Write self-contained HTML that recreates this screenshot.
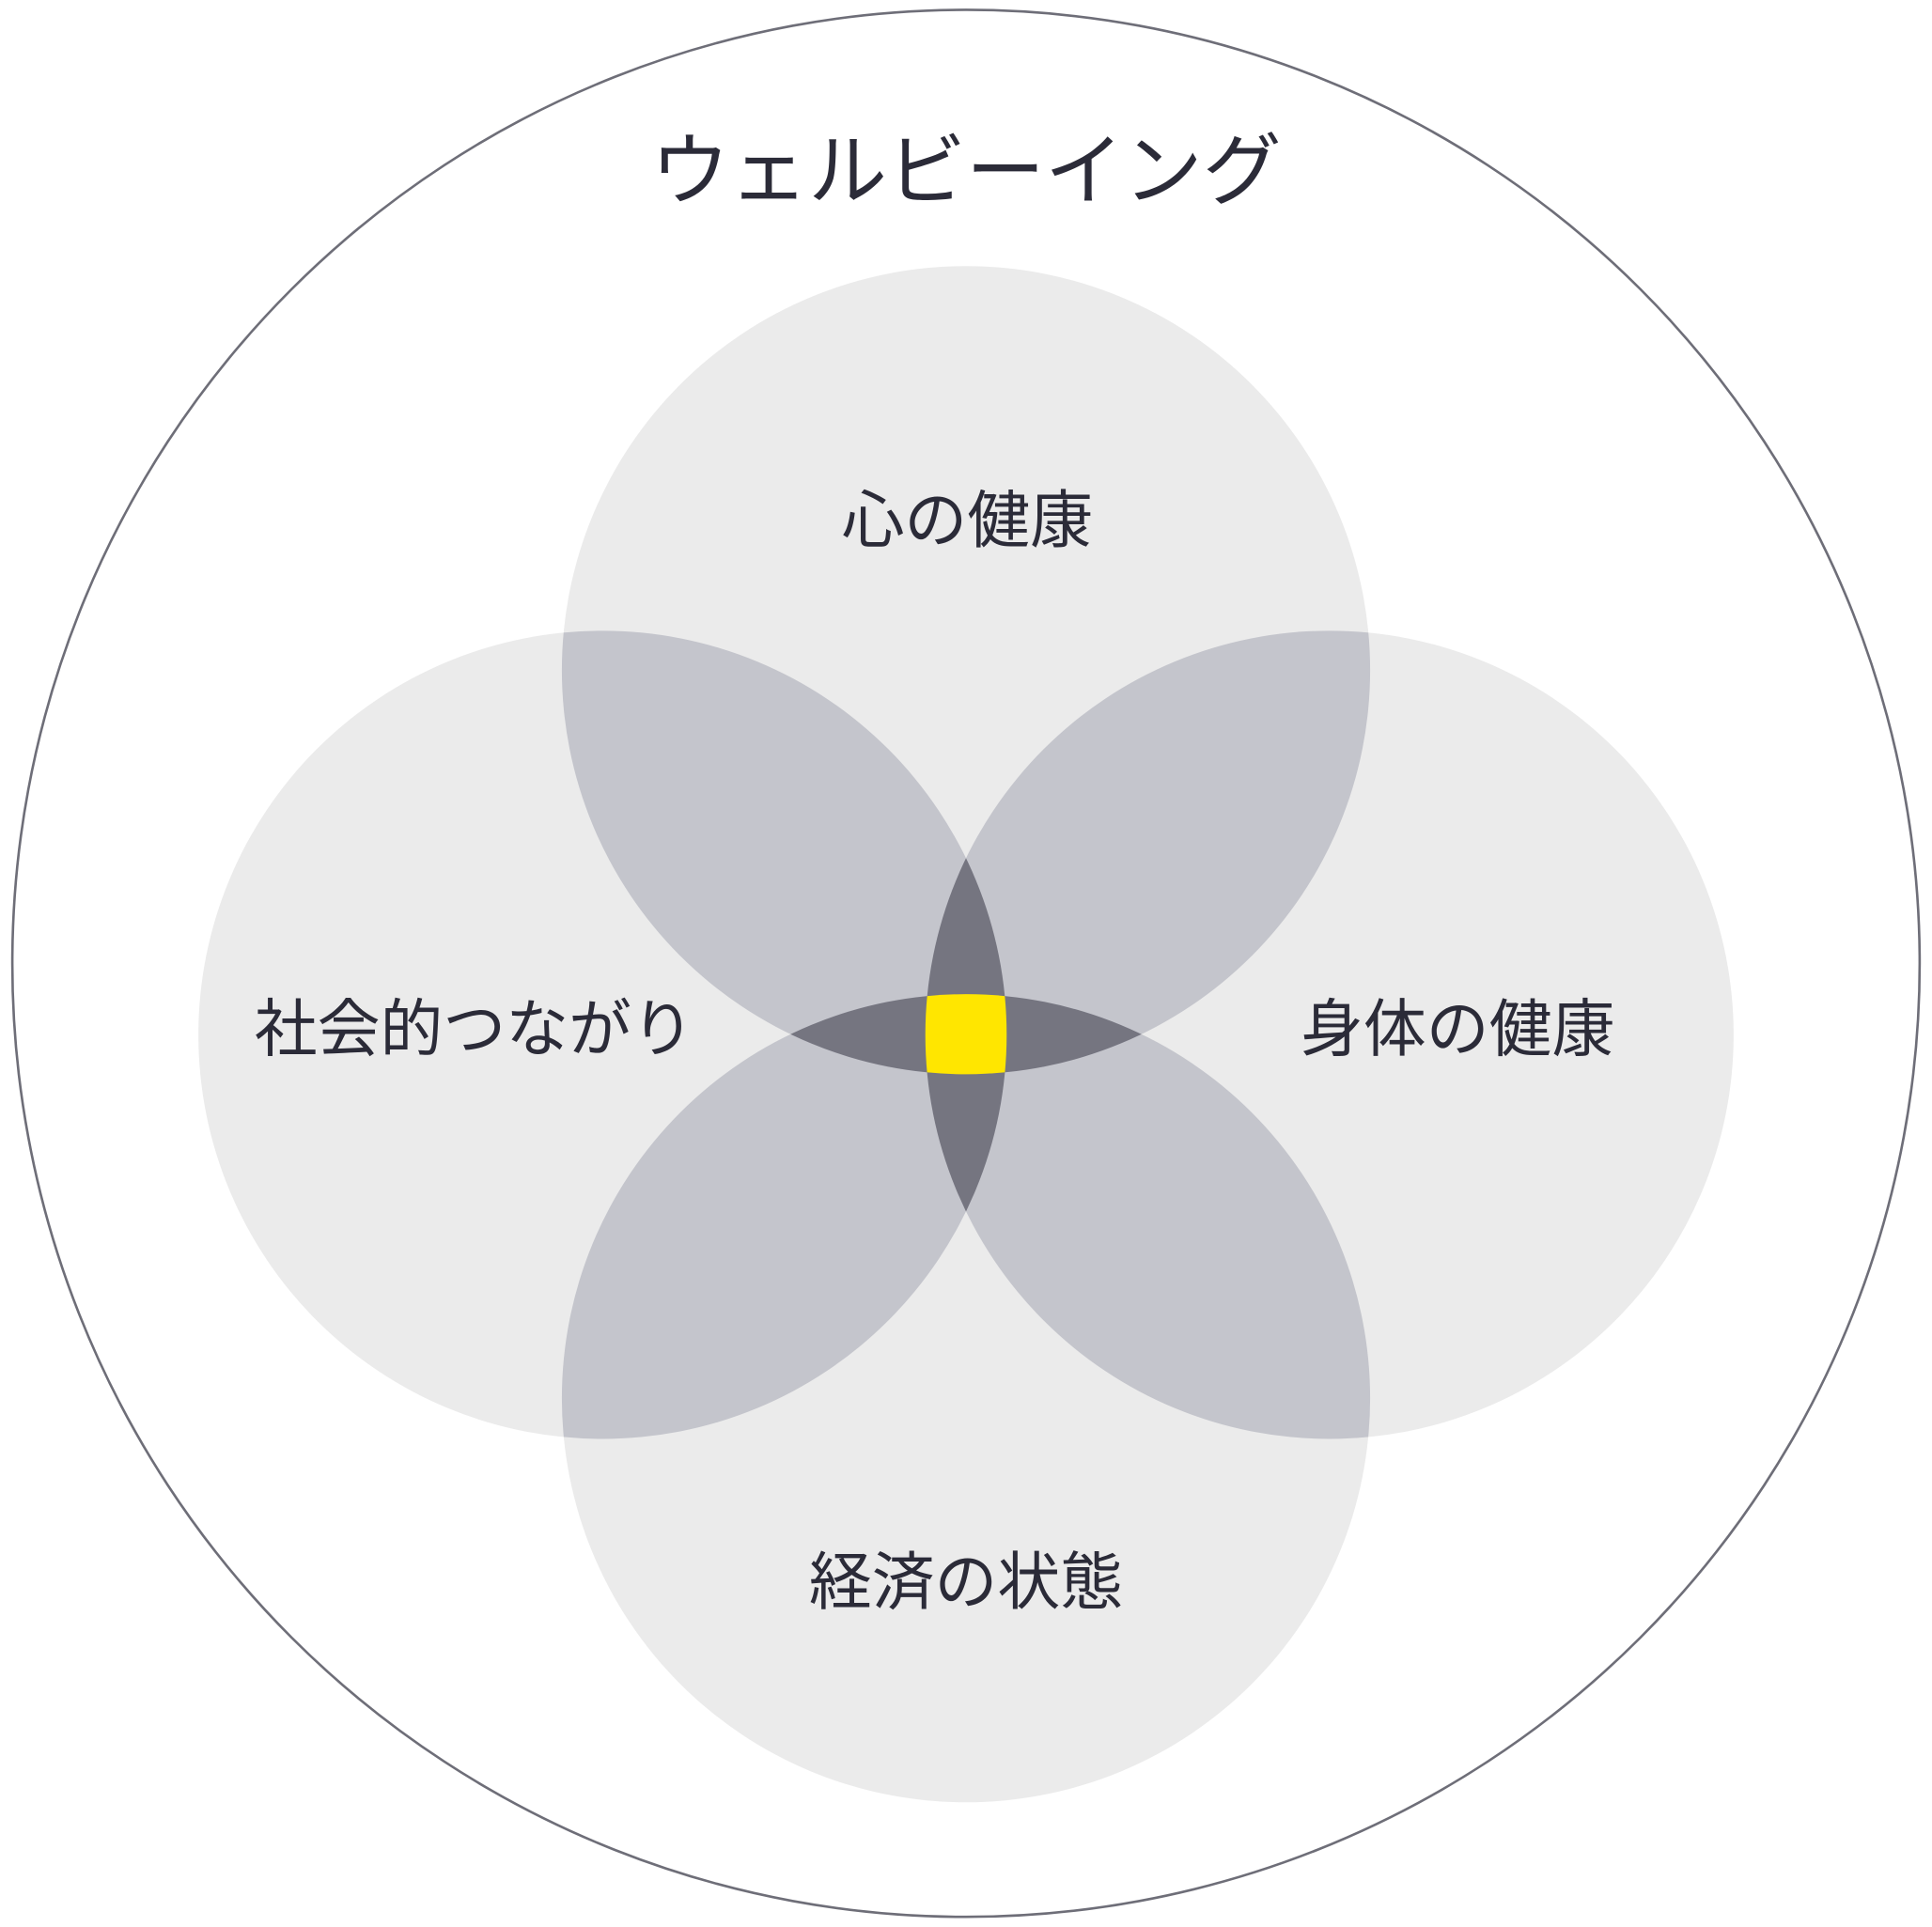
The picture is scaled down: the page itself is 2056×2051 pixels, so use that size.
<!DOCTYPE html>
<html><head><meta charset="utf-8"><style>html,body{margin:0;padding:0;background:#fff}svg{display:block}</style></head>
<body>
<svg width="2056" height="2051" viewBox="0 0 1568 1564.2" xmlns="http://www.w3.org/2000/svg">
<defs>
<clipPath id="T"><circle cx="784" cy="544" r="328"/></clipPath>
<clipPath id="B"><circle cx="784" cy="1135" r="328"/></clipPath>
<clipPath id="L"><circle cx="489" cy="840" r="328"/></clipPath>
<clipPath id="R"><circle cx="1079" cy="840" r="328"/></clipPath>
</defs>
<circle cx="784" cy="782" r="774" fill="#fff" stroke="#6e6e78" stroke-width="2"/>
<g fill="#ebebeb">
<circle cx="784" cy="544" r="328"/><circle cx="784" cy="1135" r="328"/>
<circle cx="489" cy="840" r="328"/><circle cx="1079" cy="840" r="328"/>
</g>
<g fill="#c4c5cc">
<g clip-path="url(#T)"><circle cx="489" cy="840" r="328"/><circle cx="1079" cy="840" r="328"/><circle cx="784" cy="1135" r="328"/></g>
<g clip-path="url(#B)"><circle cx="489" cy="840" r="328"/><circle cx="1079" cy="840" r="328"/></g>
<g clip-path="url(#L)"><circle cx="1079" cy="840" r="328"/></g>
</g>
<g fill="#757580">
<g clip-path="url(#L)"><g clip-path="url(#R)"><rect x="0" y="0" width="1568" height="1564"/></g></g>
<g clip-path="url(#T)"><g clip-path="url(#B)"><rect x="0" y="0" width="1568" height="1564"/></g></g>
</g>
<g clip-path="url(#L)"><g clip-path="url(#R)"><g clip-path="url(#T)"><circle cx="784" cy="1135" r="328" fill="#ffe600"/></g></g></g>
<g font-family="'Liberation Sans','Noto Sans CJK JP',sans-serif" fill="#2b2b38" text-anchor="middle">
<text x="784" y="161" font-size="64">ウェルビーイング</text>
<text x="785" y="440" font-size="51">心の健康</text>
<text x="385" y="853" font-size="51">社会的つながり</text>
<text x="1183" y="853" font-size="51">身体の健康</text>
<text x="784" y="1302" font-size="51">経済の状態</text>
</g>
</svg>
</body></html>
